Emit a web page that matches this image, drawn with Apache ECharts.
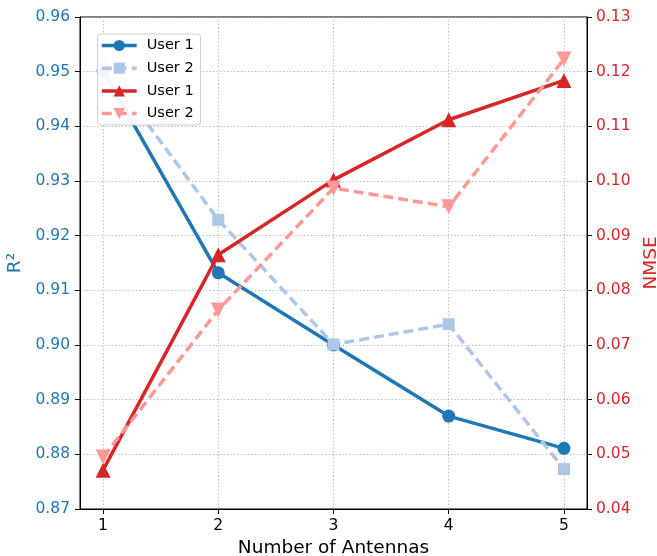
<!DOCTYPE html>
<html>
<head>
<meta charset="utf-8">
<script src="https://cdn.jsdelivr.net/npm/echarts@6/dist/echarts.min.js"></script>
<style>
html,body{margin:0;padding:0;background:#fff;overflow:hidden;}
#chart{width:657px;height:556px;}
</style>
</head>
<body>
<div id="chart"></div>
<script>
// ---- data ----
const antennas = [1, 2, 3, 4, 5];
const r2User1 = [0.9502, 0.9132, 0.9000, 0.8870, 0.8811];
const r2User2 = [0.9515, 0.9229, 0.9001, 0.9038, 0.8773];
const nmseUser1 = [0.0471, 0.0865, 0.1002, 0.1112, 0.1184];
const nmseUser2 = [0.0495, 0.0764, 0.0987, 0.0953, 0.1223];
const legendLabels = ['User 1', 'User 2', 'User 1', 'User 2'];
const xTicks = [1, 2, 3, 4, 5];

const FONT = 'DejaVu Sans';
const pairs = (ys) => antennas.map((x, i) => [x, ys[i]]);
const seriesKeys = ['s0', 's1', 's2', 's3'];
const labelMap = {};
seriesKeys.forEach((k, i) => labelMap[k] = legendLabels[i]);

const chart = echarts.init(document.getElementById('chart'), null, {renderer: 'canvas'});

function lineSeries(key, data, yIdx, color, symbol, size, dashed, rotate) {
  return {
    name: key,
    type: 'line',
    yAxisIndex: yIdx,
    data: data,
    symbol: symbol,
    symbolSize: size,
    symbolRotate: rotate || 0,
    showSymbol: true,
    clip: true,
    z: 2,
    itemStyle: {color: color},
    lineStyle: {color: color, width: 3.5, type: dashed ? [10, 5] : 'solid'},
    emphasis: {disabled: true},
    animation: false
  };
}

const option = {
  animation: false,
  backgroundColor: '#fff',
  grid: {
    left: 80, right: 70, top: 17, bottom: 47,
    containLabel: false,
    outerBoundsMode: 'none',
    show: true, borderColor: '#000', borderWidth: 1, backgroundColor: 'transparent'
  },
  graphic: [{
    type: 'rect',
    z: 50,
    silent: true,
    shape: {x: 97.5, y: 34, width: 103, height: 91, r: 3},
    style: {fill: 'rgba(255,255,255,0.93)', stroke: '#d0d0d0', lineWidth: 1}
  }],
  legend: {
    z: 60,
    orient: 'vertical',
    left: 97, top: 34,
    padding: [4, 10, 4, 3],
    itemWidth: 35, itemHeight: 14, itemGap: 7.7,
    lineStyle: {width: 3.5},
    textStyle: {fontFamily: FONT, fontSize: 14.5, color: '#000', padding: [0, 0, 0, 5]},
    formatter: (name) => labelMap[name],
    data: seriesKeys,
    selectedMode: false
  },
  xAxis: {
    type: 'value',
    min: 0.8, max: 5.2,
    name: 'Number of Antennas',
    nameLocation: 'middle',
    nameGap: 29,
    nameTextStyle: {fontFamily: FONT, fontSize: 18.5, color: '#000'},
    axisLine: {show: true, onZero: false, lineStyle: {color: '#000', width: 1}},
    axisTick: {show: true, length: 5, inside: false, customValues: xTicks, lineStyle: {color: '#000'}},
    axisLabel: {customValues: xTicks, fontFamily: FONT, fontSize: 15.5, color: '#000', margin: 9},
    splitLine: {show: true, lineStyle: {color: '#b0b0b0', width: 0.9, type: [1.3, 2.2]}}
  },
  yAxis: [
    {
      type: 'value', position: 'left',
      min: 0.87, max: 0.96, interval: 0.01,
      name: 'R²', nameLocation: 'middle', nameGap: 48, nameRotate: 90,
      nameTextStyle: {fontFamily: FONT, fontSize: 18.5, color: '#1f77b4'},
      axisLine: {show: true, lineStyle: {color: '#000', width: 1}},
      axisTick: {show: true, length: 5, lineStyle: {color: '#000'}},
      axisLabel: {fontFamily: FONT, fontSize: 15.5, color: '#1f77b4', margin: 10,
        formatter: (v) => v.toFixed(2)},
      splitLine: {show: true, lineStyle: {color: '#b0b0b0', width: 0.9, type: [1.3, 2.2]}}
    },
    {
      type: 'value', position: 'right',
      min: 0.04, max: 0.13, interval: 0.01,
      name: 'NMSE', nameLocation: 'middle', nameGap: 46, nameRotate: 90,
      nameTextStyle: {fontFamily: FONT, fontSize: 18.5, color: '#d62728'},
      axisLine: {show: true, lineStyle: {color: '#000', width: 1}},
      axisTick: {show: true, length: 5, lineStyle: {color: '#000'}},
      axisLabel: {fontFamily: FONT, fontSize: 15.5, color: '#d62728', margin: 9,
        formatter: (v) => v.toFixed(2)},
      splitLine: {show: false}
    }
  ],
  series: [
    lineSeries('s0', pairs(r2User1), 0, '#1f77b4', 'circle', 13, false),
    lineSeries('s1', pairs(r2User2), 0, '#aec7e8', 'rect', 12, true),
    lineSeries('s2', pairs(nmseUser1), 1, '#d62728', 'triangle', 15, false),
    lineSeries('s3', pairs(nmseUser2), 1, '#ff9896', 'triangle', 15, true, 180)
  ]
};
chart.setOption(option);
</script>
</body>
</html>
